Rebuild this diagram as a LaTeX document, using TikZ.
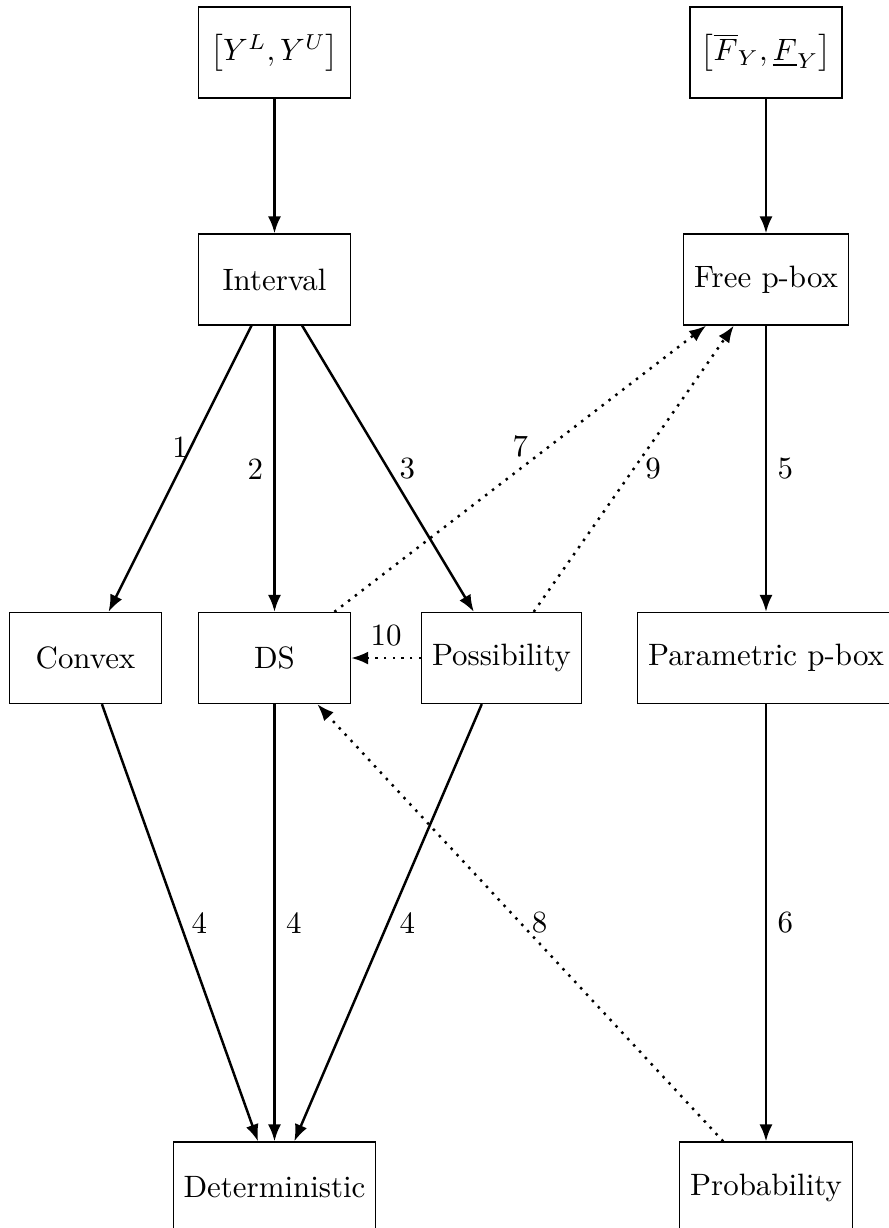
\documentclass[tikz,border=0pt]{standalone}
\usetikzlibrary{arrows.meta}
\begin{document}
\begin{tikzpicture}[x=0.3236pt, y=-0.3236pt,
  box/.style={draw, minimum width=49.2pt, minimum height=29.45pt},
  tipstyle/.style={-{Latex[length=5.5pt, width=4.2pt]}},
  arr/.style={thick, tipstyle},
  dotarr/.style={thick, dotted, tipstyle}]
\useasboundingbox (0,0) rectangle (888,1228);
\node[box] (Y) at (274.5,52.5) {$\left[Y^L, Y^U\right]$};
\node[box] (F) at (766,52.5) {$\left[\overline{F}_Y, \underline{F}_Y\right]$};
\node[box] (int) at (274.5,279.5) {Interval};
\node[box] (free) at (766,279.5) {Free p-box};
\node[box] (conv) at (85.5,658) {Convex};
\node[box] (ds) at (274.5,658) {DS};
\node[box] (poss) at (501.5,658) {Possibility};
\node[box] (par) at (766,658) {Parametric p-box};
\node[box] (det) at (274.5,1187.5) {Deterministic};
\node[box] (prob) at (766,1187.5) {Probability};

\draw[arr] (Y) -- (int);
\draw[arr] (F) -- (free);
\draw[arr] (int) -- node[midway, above] (l1) {1} (conv);
\draw[arr] (int) -- node[midway, left] (l2) {2} (ds);
\draw[arr] (int) -- node[midway, right] (l3) {3} (poss);
\draw[arr] (free) -- node[midway, right] (l5) {5} (par);
\draw[arr] (par) -- node[midway, right] (l6) {6} (prob);
\draw[arr] (conv) -- node[midway, right] (l4a) {4} (det);
\draw[arr] (ds) -- node[midway, right] (l4b) {4} (det);
\draw[arr] (poss) -- node[midway, right] (l4c) {4} (det);
\draw[dotarr] (ds) -- node[midway, above] (l7) {7} (free);
\draw[dotarr] (prob) -- node[midway, right] (l8) {8} (ds);
\draw[dotarr] (poss) -- node[midway, right] (l9) {9} (free);
\draw[dotarr] (poss) -- node[midway, above] (l10) {10} (ds);
\end{tikzpicture}
\end{document}
